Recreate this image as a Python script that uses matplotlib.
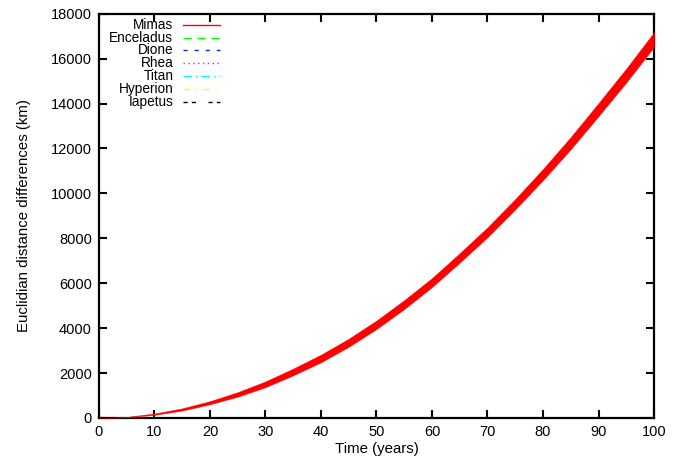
import numpy as np
import matplotlib.pyplot as plt

plt.rcParams['font.family'] = ['Liberation Sans', 'DejaVu Sans']

# time (years) and Mimas distance difference (band centre and half width)
years = [0, 5, 10, 15, 20, 25, 30, 35, 40, 45, 50, 55, 60, 65, 70, 75, 80, 85, 90, 95, 100]
mimas_mid = [0, 40, 170, 380, 680, 1050, 1500, 2050, 2650, 3350, 4150, 5050, 6030,
             7130, 8270, 9520, 10840, 12240, 13730, 15250, 16850]
mimas_half = [0, 10, 30, 50, 70, 100, 130, 150, 170, 180, 190, 200, 200,
              210, 220, 230, 250, 270, 290, 310, 330]
# the other moons stay at zero on this scale
others = {
    'Enceladus': [0] * len(years),
    'Dione': [0] * len(years),
    'Rhea': [0] * len(years),
    'Titan': [0] * len(years),
    'Hyperion': [0] * len(years),
    'Iapetus': [0] * len(years),
}

names = ['Mimas', 'Enceladus', 'Dione', 'Rhea', 'Titan', 'Hyperion', 'Iapetus']
colors = ['#ff0000', '#00ff00', '#2020c0', '#ff00ff', '#00ffff', '#ffff00', '#000000']
styles = ['-', (0, (6, 4)), (0, (3, 5)), (0, (1, 2.5)), (0, (6, 3, 1, 3)),
          (0, (5, 4, 1, 4)), (0, (3, 3, 3, 9))]


def main():
    fig = plt.figure(figsize=(6.87, 4.61), dpi=100)
    ax = fig.add_axes([0.144, 0.0933, 0.808, 0.877])

    t = np.array(years)
    mid = np.array(mimas_mid, dtype=float)
    half = np.array(mimas_half, dtype=float)
    ax.fill_between(t, mid - half, mid + half, color='#ff0000', lw=0.3, zorder=3)

    for i, name in enumerate(names[1:], start=1):
        ax.plot(t, others[name], color=colors[i], ls=styles[i], lw=1, zorder=1)

    ax.set_xlim(0, 100)
    ax.set_ylim(0, 18000)
    ax.set_xticks(range(0, 101, 10))
    ax.set_yticks(range(0, 18001, 2000))
    ax.tick_params(direction='in', length=6, width=1.5, top=True, right=True,
                   labelsize=10.5, pad=5)
    for s in ax.spines.values():
        s.set_linewidth(1.6)
    ax.set_xlabel('Time (years)', fontsize=10.8, labelpad=2)
    ax.set_ylabel('Euclidian distance differences (km)', fontsize=10.8, labelpad=14)

    # gnuplot style key: right aligned labels followed by line samples
    for i, name in enumerate(names):
        y = 1 - (11 + 12.8 * i) / 404
        ax.text(0.134, y, name, transform=ax.transAxes, ha='right', va='center',
                fontsize=9.8)
        ax.plot([0.151, 0.218], [y, y], transform=ax.transAxes, color=colors[i],
                ls=styles[i], lw=1, clip_on=False)

    plt.savefig('out.png', dpi=100)


if __name__ == "__main__":
    main()
